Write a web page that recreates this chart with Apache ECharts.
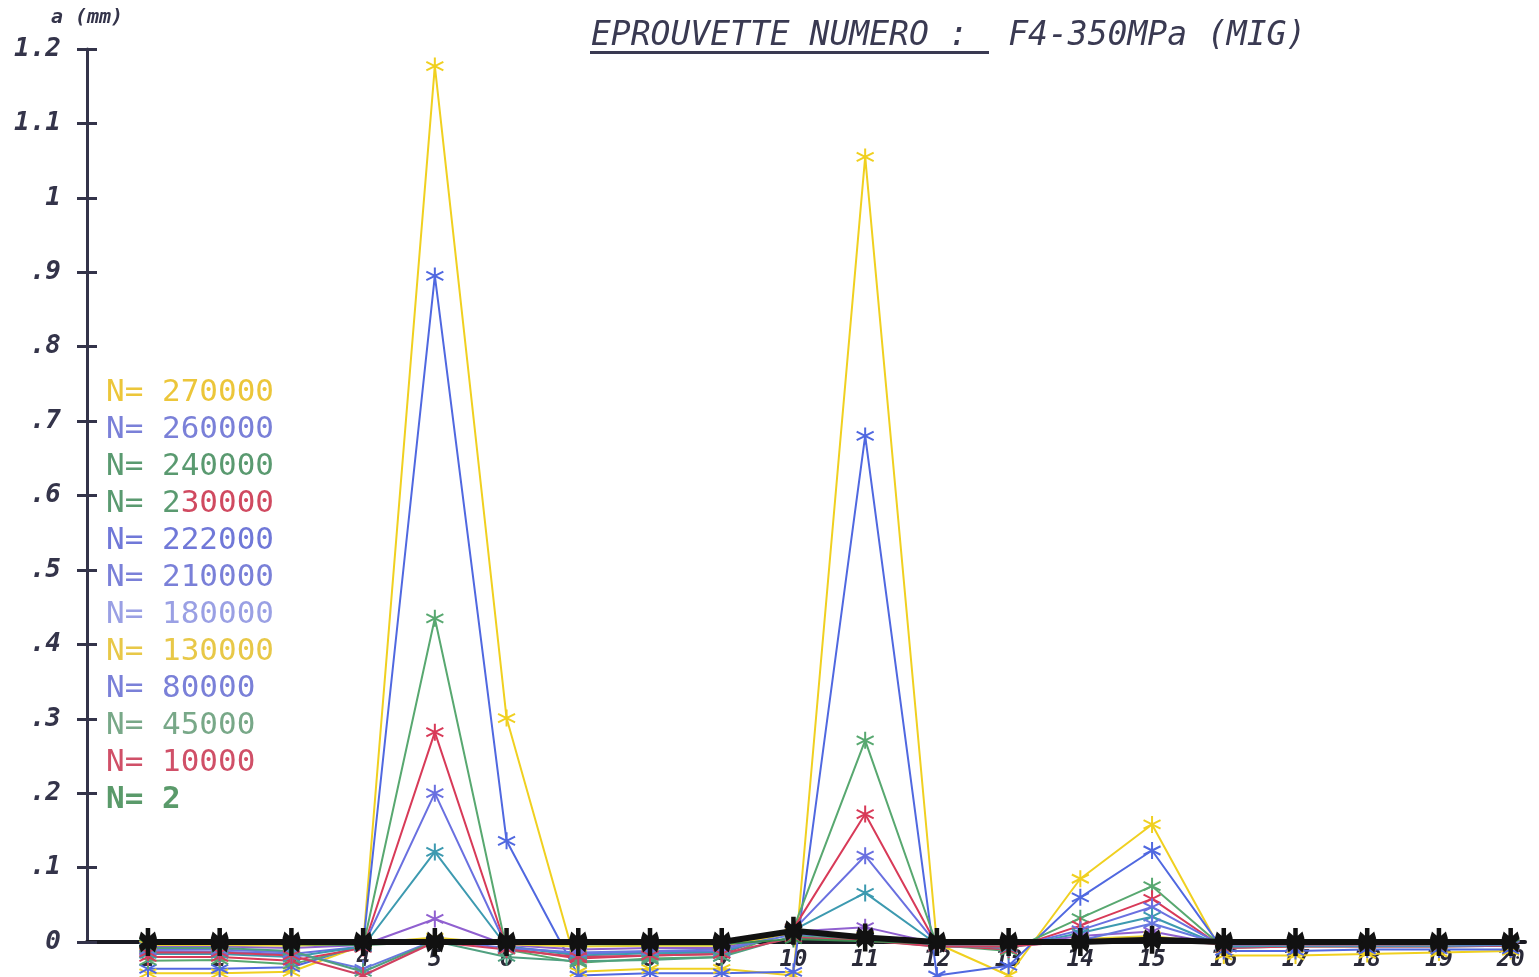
<!DOCTYPE html>
<html>
<head>
<meta charset="utf-8">
<script src="https://cdn.jsdelivr.net/npm/echarts@6/dist/echarts.min.js"></script>
<style>
  html, body { margin: 0; padding: 0; background: #ffffff; }
  #chart { width: 1539px; height: 977px; }
</style>
</head>
<body>
<div id="chart"></div>
<script>
// Measuring stations along the specimen (x) and crack depth a in mm (y)
const stations = ['1','2','3','4','5','6','7','8','9','10','11','12','13','14','15','16','17','18','19','20'];
const depthLabels = ['0','.1','.2','.3','.4','.5','.6','.7','.8','.9','1','1.1','1.2'];

// Number of cycles for each measurement campaign
const cycles = ['270000','260000','240000','230000','222000','210000','180000','130000','80000','45000','10000','2'];

// Crack depth a (mm) at stations 1..20 for each cycle count
const a270000 = [-0.042,-0.042,-0.040,-0.004,1.177,0.301,-0.040,-0.036,-0.036,-0.045,1.055,-0.002,-0.045,0.085,0.158,-0.018,-0.018,-0.016,-0.014,-0.012];
const a260000 = [-0.036,-0.036,-0.034,-0.004,0.895,0.136,-0.045,-0.042,-0.042,-0.040,0.680,-0.045,-0.032,0.060,0.123,-0.012,-0.012,-0.010,-0.010,-0.010];
const a240000 = [-0.025,-0.024,-0.030,-0.006,0.435,-0.010,-0.028,-0.022,-0.020,0.018,0.271,-0.004,-0.012,0.032,0.075,-0.008,-0.006,-0.006,-0.006,-0.005];
const a230000 = [-0.020,-0.020,-0.025,-0.008,0.282,-0.008,-0.022,-0.018,-0.016,0.018,0.172,-0.004,-0.010,0.022,0.058,-0.008,-0.006,-0.006,-0.006,-0.005];
const a222000 = [-0.012,-0.013,-0.016,-0.006,0.200,-0.006,-0.016,-0.013,-0.012,0.016,0.116,-0.003,-0.008,0.016,0.047,-0.006,-0.005,-0.005,-0.005,-0.004];
const a210000 = [-0.016,-0.016,-0.020,-0.006,0.121,-0.006,-0.018,-0.015,-0.014,0.016,0.066,-0.003,-0.008,0.012,0.034,-0.006,-0.005,-0.005,-0.005,-0.004];
const a180000 = [-0.006,-0.006,-0.008,-0.004,0.031,-0.004,-0.010,-0.008,-0.008,0.014,0.020,-0.002,-0.005,0.008,0.014,-0.004,-0.004,-0.004,-0.003,-0.003];
const a130000 = [-0.004,-0.004,-0.005,-0.002,0.006,-0.003,-0.006,-0.005,-0.005,0.012,0.008,-0.002,-0.004,0.004,0.008,-0.003,-0.003,-0.003,-0.003,-0.002];
const a80000  = [-0.010,-0.010,-0.014,-0.036,0.002,-0.008,-0.014,-0.012,-0.010,0.010,0.005,-0.006,-0.006,0.002,0.025,-0.004,-0.003,-0.003,-0.003,-0.003];
const a45000  = [-0.008,-0.008,-0.012,-0.040,0.001,-0.020,-0.026,-0.024,-0.020,0.008,0.003,-0.006,-0.006,0.002,0.004,-0.003,-0.003,-0.003,-0.003,-0.002];
const a10000  = [-0.014,-0.014,-0.018,-0.045,0.000,-0.010,-0.020,-0.018,-0.016,0.006,0.002,-0.006,-0.006,0.001,0.003,-0.003,-0.003,-0.003,-0.003,-0.002];
const a2      = [-0.002,-0.002,-0.003,-0.004,0.000,-0.002,-0.003,-0.003,-0.003,0.004,0.001,-0.002,-0.003,0.000,0.002,-0.002,-0.002,-0.002,-0.002,-0.002];
// Reference profile traced in black along the weld
const aRef    = [0.000,0.000,0.000,0.000,0.000,0.000,0.000,0.000,0.000,0.015,0.006,0.000,0.000,0.000,0.003,0.000,0.000,0.000,0.000,0.000];

const depthSeries = [a270000,a260000,a240000,a230000,a222000,a210000,a180000,a130000,a80000,a45000,a10000,a2];

// Pen colours: line / legend text
const lineColors   = ['#f0d020','#5068e0','#58a870','#d83a58','#6a70e0','#3d9ab0','#9060d0','#e8d030','#6878e0','#50a080','#d04060','#3a8a50'];
const legendColors = ['#ecc63a','#7a80d8','#5a9a70','#d04a60','#7078d8','#7a80d8','#9aa0e4','#e8c848','#7a80d8','#78a888','#d05068','#5a9a6a'];

const PLOT_FONT = '"DejaVu Sans Mono", monospace';
const INK = '#34344a';
const ASTERISK = 'path://M5,0L5,10M0.7,2.5L9.3,7.5M0.7,7.5L9.3,2.5';

const xs = stations.map(Number);
const toPoints = arr => arr.map((v, i) => [xs[i], v]);

const X_MIN = 0.15, X_MAX = 20.2;

const series = depthSeries.map((arr, k) => ({
  name: 'N= ' + cycles[k],
  type: 'line',
  xAxisIndex: 1,
  yAxisIndex: 2,
  data: toPoints(arr),
  symbol: ASTERISK,
  symbolSize: 17,
  showSymbol: true,
  lineStyle: { color: lineColors[k], width: 2 },
  itemStyle: { color: lineColors[k], borderColor: lineColors[k], borderWidth: 2 },
  emphasis: { disabled: true },
  animation: false,
  z: 3
}));

series.push({
  name: 'ref',
  type: 'line',
  xAxisIndex: 1,
  yAxisIndex: 2,
  data: toPoints(aRef),
  symbol: ASTERISK,
  symbolSize: [16, 28],
  lineStyle: { color: '#111111', width: 6 },
  itemStyle: { color: '#111111', borderColor: '#111111', borderWidth: 6 },
  emphasis: { disabled: true },
  animation: false,
  z: 4
});

const chart = echarts.init(document.getElementById('chart'), null, { renderer: 'canvas' });

chart.setOption({
  backgroundColor: '#ffffff',
  animation: false,
  title: {
    text: 'EPROUVETTE NUMERO :  F4-350MPa (MIG)',
    left: 586,
    top: 15,
    textStyle: { fontFamily: PLOT_FONT, fontStyle: 'italic', fontWeight: 'normal', fontSize: 33, color: '#3a3a52' }
  },
  graphic: [
    { type: 'rect', left: 590, top: 51, shape: { width: 399, height: 3 }, style: { fill: '#3a3a52' } }
  ],
  legend: {
    orient: 'vertical',
    left: 95,
    top: 372,
    itemWidth: 0,
    itemHeight: 0,
    itemGap: 6,
    selectedMode: false,
    textStyle: {
      fontFamily: PLOT_FONT,
      fontSize: 31,
      lineHeight: 30,
      rich: {
        g: { fontFamily: PLOT_FONT, fontSize: 31, lineHeight: 30, color: '#5a9a70' },
        r: { fontFamily: PLOT_FONT, fontSize: 31, lineHeight: 30, color: '#d04a60' }
      }
    },
    formatter: name => name === 'N= 230000' ? '{g|N= 2}{r|30000}' : name,
    data: cycles.map((c, k) => ({
      name: 'N= ' + c,
      icon: 'rect',
      textStyle: { color: legendColors[k], fontWeight: c === '2' ? 'bold' : 'normal' }
    }))
  },
  grid: [
    { left: 87, right: 14, top: 49, height: 893 },
    { left: 87, right: 14, top: 49, height: 928 }
  ],
  xAxis: [
    {
      gridIndex: 0,
      type: 'value',
      min: X_MIN,
      max: X_MAX,
      axisLine: { show: true, lineStyle: { color: '#1a1a22', width: 4 } },
      axisTick: { show: false },
      splitLine: { show: false },
      axisLabel: {
        customValues: xs,
        formatter: v => stations[Math.round(v) - 1],
        margin: 7,
        fontFamily: PLOT_FONT,
        fontSize: 23,
        fontWeight: 'bold',
        fontStyle: 'italic',
        color: '#2a2a38'
      }
    },
    { gridIndex: 1, type: 'value', min: X_MIN, max: X_MAX, show: false }
  ],
  yAxis: [
    {
      gridIndex: 0,
      type: 'value',
      min: 0,
      max: 1.2,
      interval: 0.1,
      name: 'a (mm)',
      nameLocation: 'end',
      nameGap: 21,
      nameTextStyle: { fontFamily: PLOT_FONT, fontSize: 20, fontWeight: 'bold', fontStyle: 'italic', color: INK, align: 'center' },
      axisLine: { show: true, lineStyle: { color: INK, width: 3 } },
      axisTick: { show: true, length: 10, lineStyle: { color: INK, width: 3 } },
      splitLine: { show: false },
      axisLabel: {
        formatter: v => depthLabels[Math.round(v * 10)],
        margin: 26,
        fontFamily: PLOT_FONT,
        fontSize: 26,
        fontWeight: 'bold',
        fontStyle: 'italic',
        color: INK
      }
    },
    {
      gridIndex: 0,
      type: 'value',
      min: 0,
      max: 1.2,
      interval: 0.1,
      position: 'left',
      offset: 0,
      axisLine: { show: false },
      axisTick: { show: true, inside: true, length: 10, lineStyle: { color: INK, width: 3 } },
      axisLabel: { show: false },
      splitLine: { show: false }
    },
    { gridIndex: 1, type: 'value', min: -0.047, max: 1.2, show: false }
  ],
  series: series
});
</script>
</body>
</html>
